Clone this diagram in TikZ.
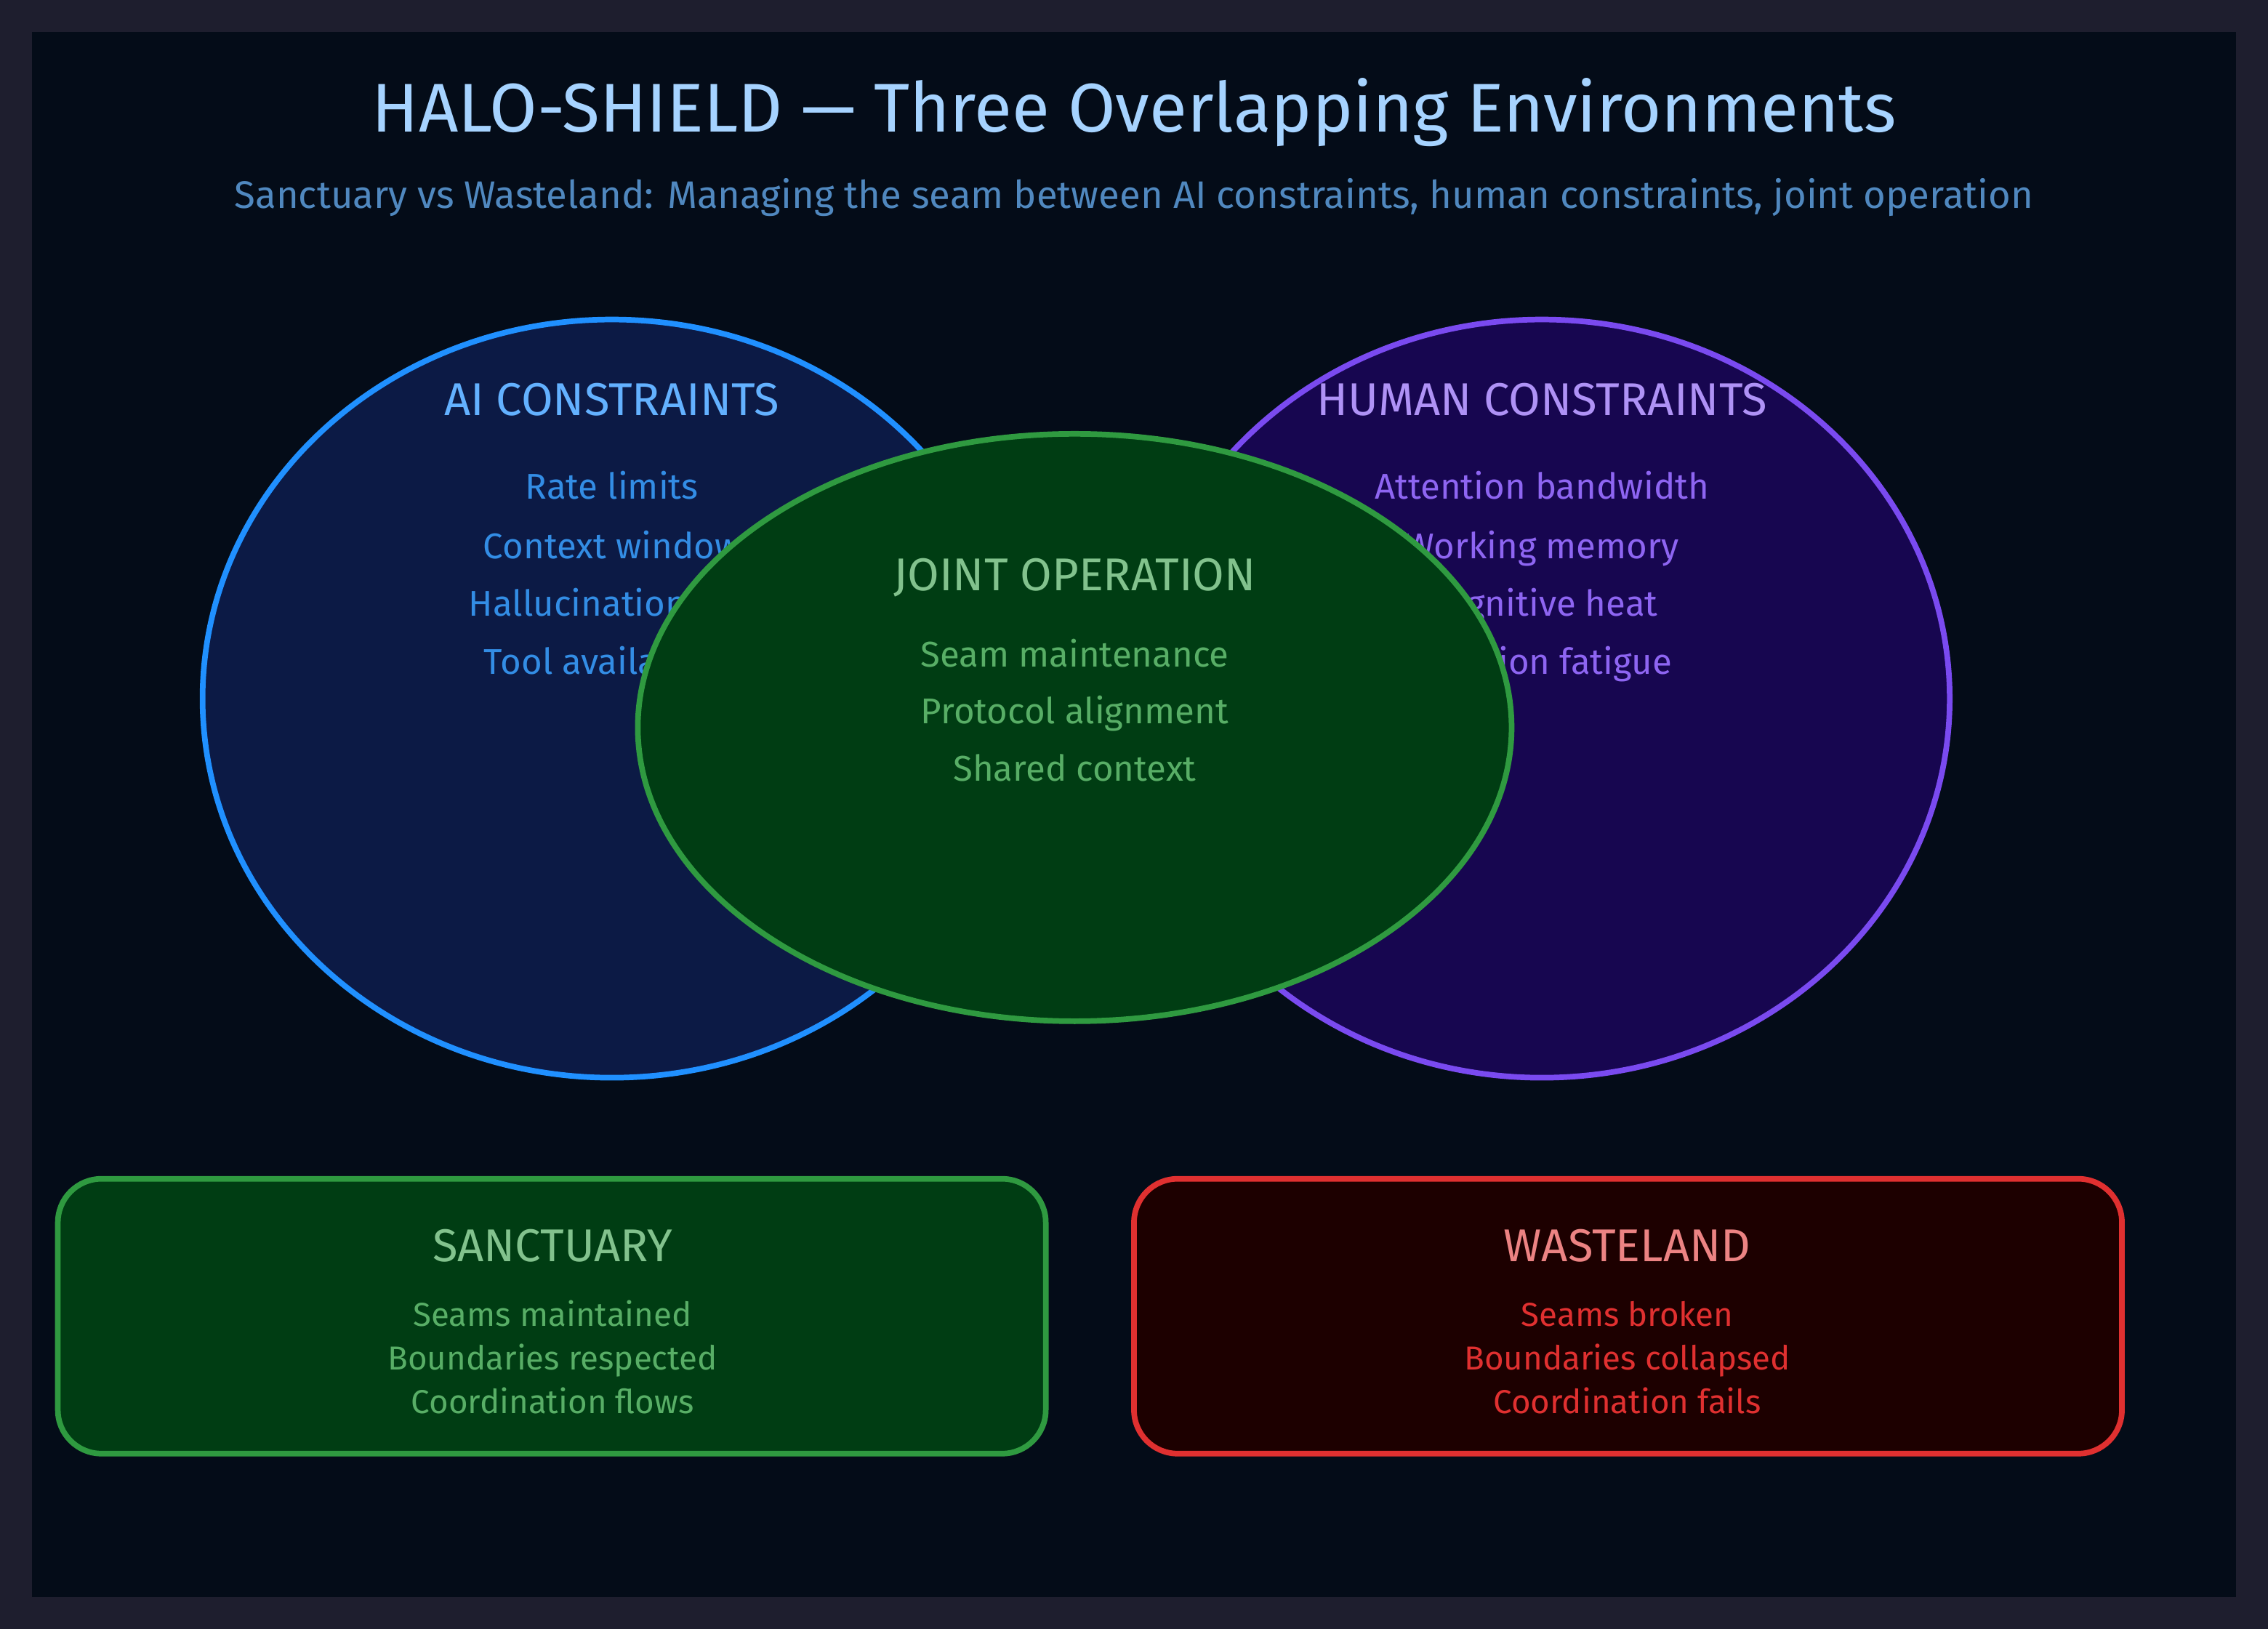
\documentclass[tikz,border=0pt]{standalone}
\usetikzlibrary{shapes.geometric}
\usepackage{fontspec}
\setmainfont{Fira Sans}
\begin{document}
\begin{tikzpicture}[x=0.0199cm,y=-0.0199cm,
 every node/.style={text height=1.5ex, text depth=0.4ex},
 ttl/.style={font=\fontsize{18}{21}\selectfont, yshift=-0.1cm},
 itm/.style={font=\fontsize{14}{16}\selectfont, yshift=-0.08cm},
 bitm/.style={font=\fontsize{13}{14}\selectfont, yshift=-0.08cm},
 shp/.style={line width=2.2pt, yshift=0cm}]
\definecolor{frame}{HTML}{1E1E2E}
\definecolor{bg}{HTML}{040C18}
\definecolor{aif}{HTML}{0C1A45}\definecolor{ais}{HTML}{2090FF}
\definecolor{huf}{HTML}{170650}\definecolor{hus}{HTML}{7A4AF0}
\definecolor{gf}{HTML}{003D13}\definecolor{gs}{HTML}{2F9A40}
\definecolor{rf}{HTML}{1D0000}\definecolor{rs}{HTML}{E03030}
\fill[frame] (0,0) rectangle (1568,1126);
\fill[bg] (22,22) rectangle (1546,1104);
\node[text=ais!40!white, font=\fontsize{27}{32}\selectfont, yshift=-0.18cm] (title) at (784,77) {HALO-SHIELD — Three Overlapping Environments};
\node[text=ais!50!gray, font=\fontsize{15}{18}\selectfont, yshift=-0.08cm] (sub) at (784,135) {Sanctuary vs Wasteland: Managing the seam between AI constraints, human constraints, joint operation};
\node[shp, draw=ais, fill=aif, ellipse, minimum width=11.26cm, minimum height=10.43cm, inner sep=0] (ai) at (423,483) {};
\node[shp, draw=hus, fill=huf, ellipse, minimum width=11.22cm, minimum height=10.43cm, inner sep=0] (hu) at (1066,483) {};
\node[ttl, text=ais!70!white] (ait) at (423,277) {AI CONSTRAINTS};
\node[itm, text=ais!80!gray] (a1) at (423,336) {Rate limits};
\node[itm, text=ais!80!gray] (a2) at (423,377) {Context window};
\node[itm, text=ais!80!gray] (a3) at (423,417) {Hallucination risk};
\node[itm, text=ais!80!gray] (a4) at (423,457) {Tool availability};
\node[ttl, text=hus!60!white] (hut) at (1066,277) {HUMAN CONSTRAINTS};
\node[itm, text=hus!85!white] (h1) at (1066,336) {Attention bandwidth};
\node[itm, text=hus!85!white] (h2) at (1066,377) {Working memory};
\node[itm, text=hus!85!white] (h3) at (1066,417) {Cognitive heat};
\node[itm, text=hus!85!white] (h4) at (1066,457) {Decision fatigue};
\node[shp, draw=gs, fill=gf, ellipse, minimum width=12.02cm, minimum height=8.08cm, inner sep=0] (jo) at (743,503) {};
\node[ttl, text=gs!60!white] (jot) at (743,398) {JOINT OPERATION};
\node[itm, text=gs!80!white] (j1) at (743,452) {Seam maintenance};
\node[itm, text=gs!80!white] (j2) at (743,491) {Protocol alignment};
\node[itm, text=gs!80!white] (j3) at (743,531) {Shared context};
\draw[shp, draw=gs, fill=gf, rounded corners=0.6cm] (40,815) rectangle (723,1005);
\node[ttl, text=gs!60!white] (st) at (382,862) {SANCTUARY};
\node[bitm, text=gs!80!white] (s1) at (382,908) {Seams maintained};
\node[bitm, text=gs!80!white] (s2) at (382,938) {Boundaries respected};
\node[bitm, text=gs!80!white] (s3) at (382,968) {Coordination flows};
\draw[shp, draw=rs, fill=rf, rounded corners=0.6cm] (784,815) rectangle (1467,1005);
\node[ttl, text=rs!60!white] (wt) at (1125,862) {WASTELAND};
\node[bitm, text=rs] (w1) at (1125,908) {Seams broken};
\node[bitm, text=rs] (w2) at (1125,938) {Boundaries collapsed};
\node[bitm, text=rs] (w3) at (1125,968) {Coordination fails};
\end{tikzpicture}
\end{document}
